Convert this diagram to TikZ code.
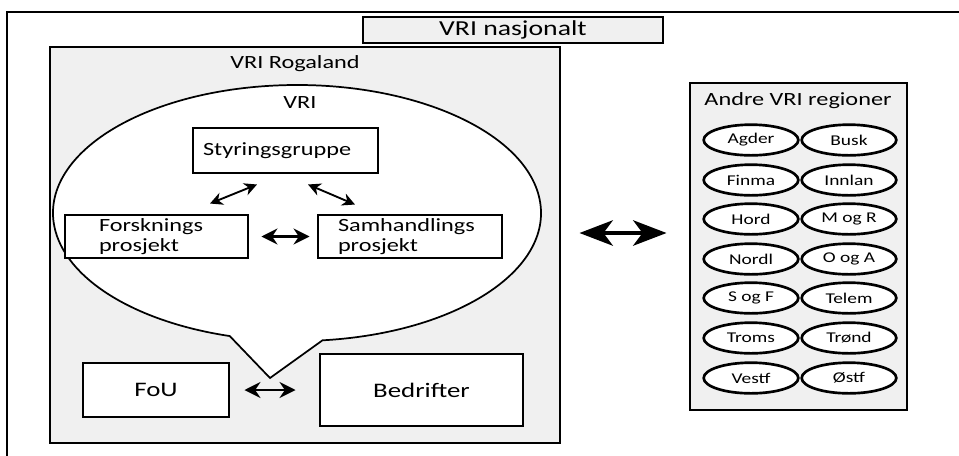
\documentclass[tikz,border=0pt]{standalone}
\usepackage{fontspec}
\setmainfont{Carlito}[FakeStretch=1.3]
\usetikzlibrary{arrows.meta,calc,shapes.geometric}
\definecolor{panelgray}{HTML}{F0F0F0}
\begin{document}
\begin{tikzpicture}[x=0.75pt,y=-0.75pt,
  box/.style={draw=black,line width=2.2pt,fill=white,rectangle,inner sep=0pt,font=\fontsize{14}{16}\selectfont},
  panel/.style={draw=black,line width=2.2pt,fill=panelgray,rectangle,inner sep=0pt},
  lbl/.style={inner sep=0pt,font=\fontsize{14}{16}\selectfont},
  reg/.style={draw=black,line width=2pt,fill=white,ellipse,minimum width=71pt,minimum height=23pt,inner sep=0pt,font=\fontsize{11.2}{12}\selectfont},
  smallarr/.style={line width=1.4pt,{Stealth[length=9.5pt,width=9.5pt,inset=3pt]}-{Stealth[length=9.5pt,width=9.5pt,inset=3pt]}},
  midarr/.style={line width=2.2pt,{Stealth[length=12pt,width=12pt,inset=4pt]}-{Stealth[length=12pt,width=12pt,inset=4pt]}},
  bigarr/.style={line width=3pt,{Stealth[length=25pt,width=19pt,inset=7pt]}-{Stealth[length=25pt,width=19pt,inset=7pt]}}
]
\useasboundingbox (0,0) rectangle (959,455);
\fill[white] (0,0) rectangle (959,455);
% outer frame (cut by the image edges)
\draw[line width=1.4pt] (7,470) -- (7,12) -- (970,12);

% VRI nasjonalt
\node[panel,minimum width=225pt,minimum height=19.5pt,font=\fontsize{16}{18}\selectfont] (nasj) at (513,30) {VRI nasjonalt};

% VRI Rogaland panel
\node[panel,minimum width=382.5pt,minimum height=297pt] (rog) at (305,245) {};
\node[lbl] (roglbl) at (295,64) {VRI Rogaland};

% callout ellipse
\draw[line width=1.3pt,fill=white]
  ($(297,213)+(84:244 and 128)$) arc[start angle=84,end angle=-254,x radius=244,y radius=128]
  -- (270,378) -- cycle;
\node[lbl] (vrilbl) at (300,103) {VRI};

% inner boxes
\node[box,text width=123.75pt,inner xsep=7.5pt,minimum height=33.75pt,align=left] (styr) at (285.5,150.5) {Styringsgruppe};
\node[box,text width=86.25pt,inner xsep=25.5pt,minimum height=32.25pt,align=left,font=\fontsize{14}{14.5}\selectfont] (forsk) at (156.5,236.5) {Forsknings\\prosjekt};
\node[box,text width=108pt,inner xsep=15pt,minimum height=32.25pt,align=left,font=\fontsize{14}{14.5}\selectfont] (samh) at (410,236.5) {Samhandlings\\prosjekt};
\node[box,minimum width=109.5pt,minimum height=40.5pt,font=\fontsize{15.5}{17}\selectfont] (fou) at (156,390) {FoU};
\node[box,minimum width=152.25pt,minimum height=54pt,font=\fontsize{15.5}{17}\selectfont] (bedr) at (421.5,390) {Bedrifter};

% arrows inside
\draw[smallarr] ($(styr.south)+(-28.5,10)$) -- ($(forsk.north)+(53.5,-10)$);
\draw[smallarr] ($(styr.south)+(22.5,10)$) -- ($(samh.north)+(-55,-9)$);
\draw[midarr] ($(forsk.east)+(12,0)$) -- ($(samh.west)+(-7,0)$);
\draw[midarr] ($(fou.east)+(14,0)$) -- ($(bedr.west)+(-23,0)$);

% other regions panel
\node[panel,minimum width=162.75pt,minimum height=245.25pt] (andre) at (798.5,246.5) {};
\node[lbl] (andrelbl) at (798,101) {Andre VRI regioner};

\node[reg] (agder) at (751,140) {Agder};
\node[reg] (busk) at (849,140) {Busk};
\node[reg] (finma) at (751,180) {Finma};
\node[reg] (innlan) at (849,180) {Innlan};
\node[reg] (hord) at (751,219) {Hord};
\node[reg] (mogr) at (849,219) {M og R};
\node[reg] (nordl) at (751,259) {Nordl};
\node[reg] (ogoa) at (849,259) {O og A};
\node[reg] (sogf) at (751,298) {S og F};
\node[reg] (telem) at (849,298) {Telem};
\node[reg] (troms) at (751,338) {Troms};
\node[reg] (trond) at (849,338) {Trønd};
\node[reg] (vestf) at (751,378) {Vestf};
\node[reg] (ostf) at (849,378) {Østf};

% big arrow
\draw[bigarr] ($(rog.east)+(18,-12)$) -- ($(andre.west)+(-22,-13.5)$);
\end{tikzpicture}
\end{document}
